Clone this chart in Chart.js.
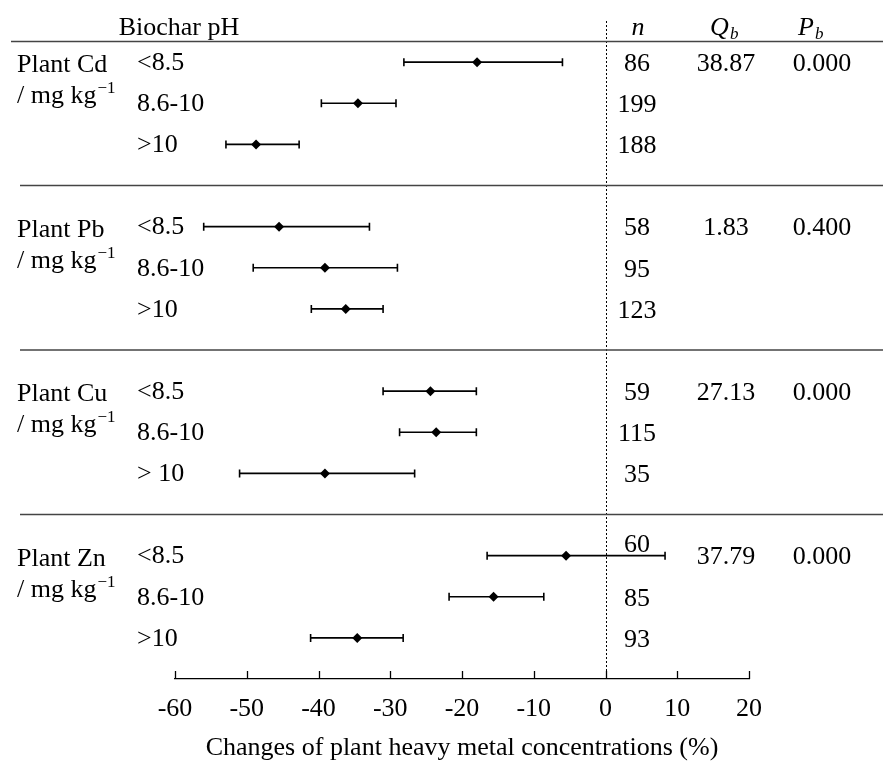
<!DOCTYPE html>
<html>
<head>
<meta charset="utf-8">
<script src="https://cdn.jsdelivr.net/npm/chart.js@4.4.1/dist/chart.umd.min.js"></script>
<style>
  body { margin: 0; background: #fff; }
  #wrap { width: 883px; height: 761px; }
</style>
</head>
<body>
<div id="wrap"><canvas id="myChart" width="883" height="761"></canvas></div>
<script>
// forest plot data
let groups = ["Plant Cd", "Plant Pb", "Plant Cu", "Plant Zn"];
let phLabels = ["<8.5", "8.6-10", ">10", "<8.5", "8.6-10", ">10", "<8.5", "8.6-10", "> 10", "<8.5", "8.6-10", ">10"];
let means = [-17.9, -34.5, -48.7, -45.5, -39.1, -36.2, -24.4, -23.6, -39.1, -5.5, -15.6, -34.6];
let lower = [-28.1, -39.6, -52.9, -56.0, -49.1, -41.0, -31.0, -28.7, -51.0, -16.5, -21.8, -41.1];
let upper = [-6.0, -29.2, -42.7, -32.9, -29.0, -31.0, -18.0, -18.0, -26.6, 8.3, -8.6, -28.2];
let nValues = [86, 199, 188, 58, 95, 123, 59, 115, 35, 60, 85, 93];
let qbValues = ["38.87", "1.83", "27.13", "37.79"];
let pbValues = ["0.000", "0.400", "0.000", "0.000"];

const FONT = '"Liberation Serif", "Times New Roman", serif';

function rowOf(i) {
  return Math.floor(i / 3) * 4 + (i % 3);
}

let points = means.map((m, i) => ({ x: m, y: rowOf(i) }));

const forestPlugin = {
  id: "forest",
  beforeDatasetsDraw(chart) {
    const ctx = chart.ctx;
    const xs = chart.scales.x;
    const ys = chart.scales.y;
    const area = chart.chartArea;
    ctx.save();

    // dotted zero line
    ctx.strokeStyle = "#000";
    ctx.lineWidth = 1;
    ctx.setLineDash([2, 2]);
    let x0 = Math.round(xs.getPixelForValue(0)) + 0.5;
    ctx.beginPath();
    ctx.moveTo(x0, area.top);
    ctx.lineTo(x0, area.bottom);
    ctx.stroke();
    ctx.setLineDash([]);

    // error bars
    ctx.lineWidth = 1.6;
    means.forEach((m, i) => {
      let y = ys.getPixelForValue(rowOf(i));
      let xl = xs.getPixelForValue(lower[i]);
      let xr = xs.getPixelForValue(upper[i]);
      ctx.beginPath();
      ctx.moveTo(xl, y);
      ctx.lineTo(xr, y);
      ctx.moveTo(xl, y - 4);
      ctx.lineTo(xl, y + 4);
      ctx.moveTo(xr, y - 4);
      ctx.lineTo(xr, y + 4);
      ctx.stroke();
    });
    ctx.restore();
  },
  afterDraw(chart) {
    const ctx = chart.ctx;
    const xs = chart.scales.x;
    const ys = chart.scales.y;
    const area = chart.chartArea;
    const W = chart.width;
    ctx.save();

    // tick marks pointing up from the axis
    ctx.strokeStyle = "#000";
    ctx.lineWidth = 1.3;
    xs.ticks.forEach((t) => {
      let x = Math.round(xs.getPixelForValue(t.value)) + 0.5;
      ctx.beginPath();
      ctx.moveTo(x, area.bottom - 8);
      ctx.lineTo(x, area.bottom);
      ctx.stroke();
    });

    // header rule and group separators
    ctx.strokeStyle = "#444";
    ctx.lineWidth = 1.4;
    let yh = ys.getPixelForValue(-0.5);
    ctx.beginPath();
    ctx.moveTo(11, yh);
    ctx.lineTo(W, yh);
    ctx.stroke();
    for (let g = 1; g < groups.length; g++) {
      let ySep = ys.getPixelForValue(g * 4 - 1);
      ctx.beginPath();
      ctx.moveTo(20, ySep);
      ctx.lineTo(W, ySep);
      ctx.stroke();
    }

    ctx.fillStyle = "#000";
    let nCol = 637, qCol = 726, pCol = 822;

    // header
    ctx.textBaseline = "alphabetic";
    ctx.textAlign = "center";
    ctx.font = "26px " + FONT;
    ctx.fillText("Biochar pH", 179, 35);
    ctx.font = "italic 26px " + FONT;
    ctx.fillText("n", nCol + 1, 35);
    ctx.textAlign = "left";
    ctx.fillText("Q", 710, 35);
    ctx.fillText("P", 798, 35);
    ctx.font = "italic 17px " + FONT;
    ctx.fillText("b", 730, 39);
    ctx.fillText("b", 815, 39);

    // group labels and stats
    groups.forEach((g, gi) => {
      let y0 = ys.getPixelForValue(gi * 4);
      ctx.textAlign = "left";
      ctx.textBaseline = "alphabetic";
      ctx.font = "26px " + FONT;
      ctx.fillText(g, 17, y0 + 10);
      let unit = "/ mg kg";
      ctx.fillText(unit, 17, y0 + 41);
      let uw = ctx.measureText(unit).width;
      ctx.font = "17px " + FONT;
      ctx.fillText("\u22121", 17 + uw + 1, y0 + 31);

      ctx.font = "26px " + FONT;
      ctx.textAlign = "center";
      ctx.textBaseline = "middle";
      ctx.fillText(qbValues[gi], qCol, y0 + 2);
      ctx.fillText(pbValues[gi], pCol, y0 + 2);
    });

    // pH classes and n
    ctx.font = "26px " + FONT;
    ctx.textBaseline = "middle";
    phLabels.forEach((lab, i) => {
      let y = ys.getPixelForValue(rowOf(i));
      ctx.textAlign = "left";
      ctx.fillText(lab, 137, y + 1);
      ctx.textAlign = "center";
      // lift the count above the bar when the interval runs into the column
      let lift = xs.getPixelForValue(upper[i]) > nCol - 20 ? 12 : 0;
      ctx.fillText(String(nValues[i]), nCol, y + 2 - lift);
    });

    ctx.restore();
  },
};

const ctx = document.getElementById("myChart");
new Chart(ctx, {
  type: "scatter",
  data: {
    datasets: [
      {
        data: points,
        pointStyle: "rectRot",
        pointRadius: 5,
        backgroundColor: "#000",
        borderColor: "#000",
        borderWidth: 0,
      },
    ],
  },
  options: {
    responsive: false,
    animation: false,
    layout: { padding: { left: 175, right: 134, top: 21, bottom: 0 } },
    plugins: {
      legend: { display: false },
      tooltip: { enabled: false },
    },
    scales: {
      x: {
        type: "linear",
        min: -60,
        max: 20,
        afterFit: (scale) => { scale.height = 82; },
        grid: { display: false, drawTicks: false },
        border: { display: true, color: "#000", width: 1.3 },
        ticks: {
          stepSize: 10,
          padding: 15,
          color: "#000",
          font: { family: FONT, size: 26 },
        },
        title: {
          display: true,
          text: "Changes of plant heavy metal concentrations (%)",
          color: "#000",
          font: { family: FONT, size: 26, lineHeight: 1.0 },
          padding: { top: 0, bottom: 0 },
        },
      },
      y: {
        type: "linear",
        display: false,
        reverse: true,
        min: -1,
        max: 15,
      },
    },
  },
  plugins: [forestPlugin],
});
</script>
</body>
</html>
